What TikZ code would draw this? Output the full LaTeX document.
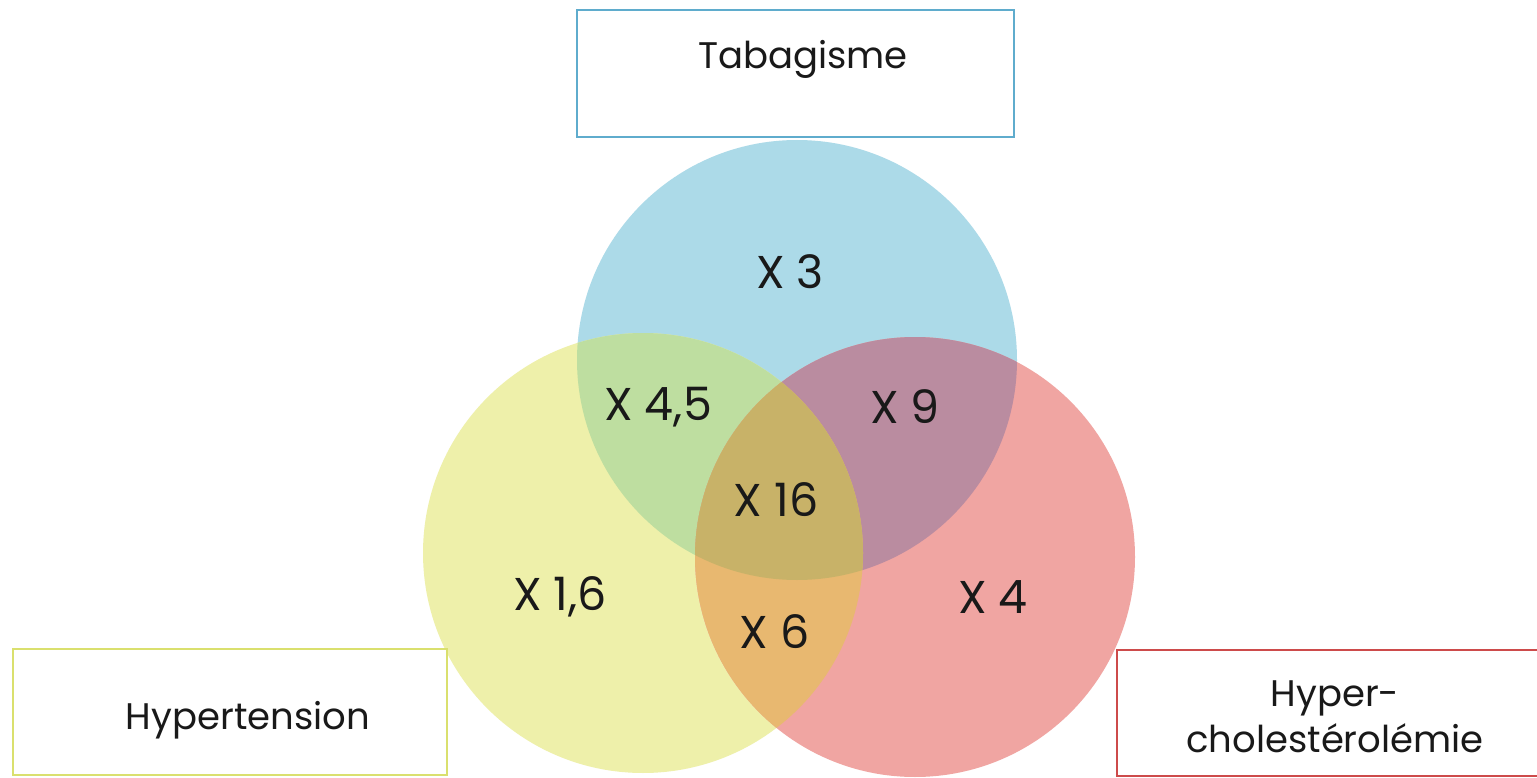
\documentclass[tikz,border=0pt]{standalone}
\usepackage{fontspec}
\setmainfont{Poppins}
\definecolor{cBlue}{RGB}{172,218,232}
\definecolor{cYellow}{RGB}{238,240,170}
\definecolor{cRed}{RGB}{240,165,162}
\definecolor{cGreen}{RGB}{190,222,160}
\definecolor{cPurple}{RGB}{186,140,160}
\definecolor{cOrange}{RGB}{232,184,112}
\definecolor{cCenter}{RGB}{200,178,104}
\definecolor{bBlue}{RGB}{95,172,205}
\definecolor{bYellow}{RGB}{218,224,110}
\definecolor{bRed}{RGB}{205,75,75}
\definecolor{txt}{RGB}{25,25,25}
\begin{document}
\begin{tikzpicture}[x=1pt,y=-1pt,
  box/.style={draw=#1,line width=2.6pt,fill=white,rectangle,inner sep=0pt},
  boxtext/.style={text=txt,font=\fontsize{37}{46}\selectfont,align=center},
  lbl/.style={text=txt,font=\fontsize{46}{54}\selectfont}]
\useasboundingbox[fill=white] (0,0) rectangle (1537,778);
% circles
\fill[cBlue] (797,360) circle[radius=220pt];
\fill[cYellow] (643,553) circle[radius=220pt];
\fill[cRed] (915,557) circle[radius=220pt];
\begin{scope}
  \clip (797,360) circle[radius=220pt];
  \fill[cGreen] (643,553) circle[radius=220pt];
  \fill[cPurple] (915,557) circle[radius=220pt];
\end{scope}
\begin{scope}
  \clip (643,553) circle[radius=220pt];
  \fill[cOrange] (915,557) circle[radius=220pt];
\end{scope}
\begin{scope}
  \clip (797,360) circle[radius=220pt];
  \clip (643,553) circle[radius=220pt];
  \fill[cCenter] (915,557) circle[radius=220pt];
\end{scope}
% region labels
\node[lbl] (l3) at (790,272) {X 3};
\node[lbl] (l45) at (658,407) {X 4,5};
\node[lbl] (l9) at (905,407) {X 9};
\node[lbl] (l16) at (776,500) {X 16};
\node[lbl] (l16b) at (560,597) {X 1,6};
\node[lbl] (l6) at (775,632) {X 6};
\node[lbl] (l4) at (993,597) {X 4};
% boxes
\node[box=bBlue,minimum width=437pt,minimum height=127pt] (btab) at (795.5,73.5) {};
\node[boxtext] (ttab) at (803,59) {Tabagisme};
\node[box=bYellow,minimum width=434pt,minimum height=126pt] (bhyp) at (230,712) {};
\node[boxtext] (thyp) at (248,720) {Hypertension};
\node[box=bRed,minimum width=440pt,minimum height=126pt] (bchol) at (1337,713) {};
\node[boxtext] (tchol) at (1335,717) {Hyper-\\cholestérolémie};
\end{tikzpicture}
\end{document}
